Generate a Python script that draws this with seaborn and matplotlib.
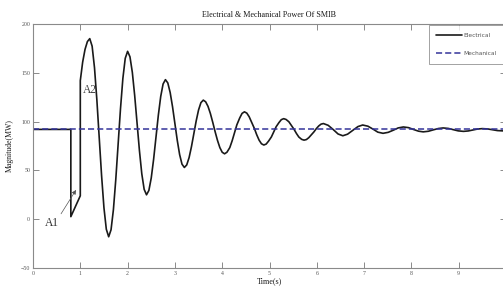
import numpy as np
import pandas as pd
import matplotlib
matplotlib.use("Agg")
import matplotlib.pyplot as plt
import seaborn as sns

# ---- data ----
time_s = [0.0, 0.8, 0.8, 1.0, 1.0, 1.05, 1.1, 1.15, 1.2,
          1.25, 1.30, 1.35, 1.40, 1.45, 1.50, 1.55, 1.60,
          1.65, 1.70, 1.75, 1.80, 1.85, 1.90, 1.95, 2.00,
          2.05, 2.10, 2.15, 2.20, 2.25, 2.30, 2.35, 2.40,
          2.45, 2.50, 2.55, 2.60, 2.65, 2.70, 2.75, 2.80,
          2.85, 2.90, 2.95, 3.00, 3.05, 3.10, 3.15, 3.20,
          3.25, 3.30, 3.35, 3.40, 3.45, 3.50, 3.55, 3.60,
          3.65, 3.70, 3.75, 3.80, 3.85, 3.90, 3.95, 4.00, 4.05,
          4.10, 4.16, 4.21, 4.26, 4.31, 4.37, 4.42, 4.47,
          4.52, 4.57, 4.62, 4.68, 4.73, 4.78, 4.83, 4.88,
          4.93, 4.98, 5.04, 5.09, 5.14, 5.20, 5.25, 5.30,
          5.35, 5.41, 5.46, 5.52, 5.57, 5.62, 5.68, 5.73,
          5.78, 5.83, 5.88, 5.94, 5.99, 6.04, 6.09, 6.14,
          6.24, 6.35, 6.45, 6.55, 6.65, 6.76, 6.87, 6.97,
          7.08, 7.19, 7.29, 7.40, 7.51, 7.62, 7.72, 7.83,
          7.94, 8.04, 8.15, 8.25, 8.36, 8.46, 8.57, 8.67,
          8.78, 8.89, 8.99, 9.10, 9.20, 9.30, 9.40, 9.50,
          9.61, 9.72, 9.82, 9.93, 10.0]
electrical_mw = [92, 92, 2.6, 24, 142, 161, 174, 182, 185,
                 177.3, 155.3, 122.4, 83.5, 44.6, 11.7, -10.3, -18,
                 -10.8, 9.8, 40.6, 77, 113.4, 144.2, 164.8, 172,
                 166.4, 150.5, 126.6, 98.5, 70.4, 46.5, 30.6, 25,
                 29.5, 42.3, 61.4, 84, 106.6, 125.7, 138.5, 143,
                 139.6, 129.8, 115.2, 98, 80.8, 66.2, 56.4, 53,
                 55.6, 63.1, 74.3, 87.5, 100.7, 111.9, 119.4, 122,
                 120.3, 115.6, 108.3, 99.3, 89.7, 80.8, 73.4, 68.6, 67,
                 68.6, 73.3, 80.3, 88.5, 96.7, 103.7, 108.4, 110,
                 108.7, 105, 99.5, 93, 86.5, 81, 77.3, 76,
                 77, 80, 84.3, 89.5, 94.7, 99, 102, 103,
                 102.2, 99.8, 96.2, 92, 87.8, 84.2, 81.8, 81,
                 81.6, 83.5, 86.2, 89.5, 92.8, 95.5, 97.4, 98,
                 96.2, 91.75, 87.3, 85.5, 87.1, 91, 94.9, 96.5,
                 95.3, 92.25, 89.2, 88, 89, 91.25, 93.5, 94.5,
                 93.8, 92, 90.2, 89.5, 90.1, 91.5, 92.9, 93.5,
                 93, 91.75, 90.5, 90, 90.4, 91.4, 92.4, 92.8,
                 92.5, 91.65, 90.8, 90.5, 90.8]
mech_time_s = [0.0, 10.0]
mechanical_mw = [92, 92]

series_names = ["Electrical", "Mechanical"]
x_ticks = [0, 1, 2, 3, 4, 5, 6, 7, 8, 9, 10]
x_tick_labels = ["0", "1", "2", "3", "4", "5", "6", "7", "8", "9", ""]  # "10" is off the picture
y_ticks = [-50, 0, 50, 100, 150, 200]

df_e = pd.DataFrame({"t": time_s, "p": electrical_mw})
df_m = pd.DataFrame({"t": mech_time_s, "p": mechanical_mw})

sns.set_style("ticks")
plt.rcParams["font.family"] = ["DejaVu Sans"]

W, H = 503, 286
fig = plt.figure(figsize=(W / 100, H / 100), dpi=100)
ax = fig.add_axes([33 / W, 18 / H, 473 / W, 244 / H])

sns.lineplot(data=df_e, x="t", y="p", sort=False, estimator=None, ax=ax,
             color="#1a1a1a", lw=1.2, label=series_names[0])
sns.lineplot(data=df_m, x="t", y="p", ax=ax, color="#34349a", lw=1.1,
             dashes=False, label=series_names[1])
ax.lines[1].set_linestyle((0, (4.0, 2.0)))

ax.set_xlim(0, 10)
ax.set_ylim(-50, 200)
ax.set_xticks(x_ticks)
ax.set_xticklabels(x_tick_labels)
ax.set_yticks(y_ticks)
ax.tick_params(direction="in", length=4, width=0.6, colors="#777777",
               labelsize=4.2, labelcolor="#555555", pad=2,
               top=True, right=True)
for lab in ax.get_xticklabels() + ax.get_yticklabels():
    lab.set_family("Liberation Serif")
for s in ax.spines.values():
    s.set_color("#8a8a8a")
    s.set_linewidth(0.8)

serif = "Liberation Serif"
ax.set_title("Electrical & Mechanical Power Of SMIB", fontsize=5.9,
             family=serif, color="#1a1a1a", pad=5)
ax.set_xlabel("Time(s)", fontsize=5.9, family=serif, color="#1a1a1a", labelpad=1)
ax.set_ylabel("Magnitude(MW)", fontsize=5.6, family=serif, color="#1a1a1a", labelpad=5)

ax.text(1.05, 132, "A2", fontsize=8.3, family=serif, color="#444444",
        ha="left", va="center")
ax.annotate("A1", xy=(0.91, 30), xytext=(0.4, -4), fontsize=8.3, family=serif,
            color="#333333", ha="center", va="center",
            arrowprops=dict(arrowstyle="-|>,head_length=0.3,head_width=0.15",
                            color="#555555", lw=0.5, relpos=(0.95, 0.9),
                            shrinkA=0, shrinkB=0))

leg = ax.legend(loc="upper right", bbox_to_anchor=(1.0, 1.0), fontsize=4.2,
                frameon=True, fancybox=False, borderaxespad=0.25,
                handlelength=4.3, handletextpad=0.4, labelspacing=2.2,
                borderpad=1.3, edgecolor="#777777")
leg.get_frame().set_linewidth(0.6)
for t in leg.get_texts():
    t.set_color("#555555")

fig.savefig("out.png", dpi=100)
